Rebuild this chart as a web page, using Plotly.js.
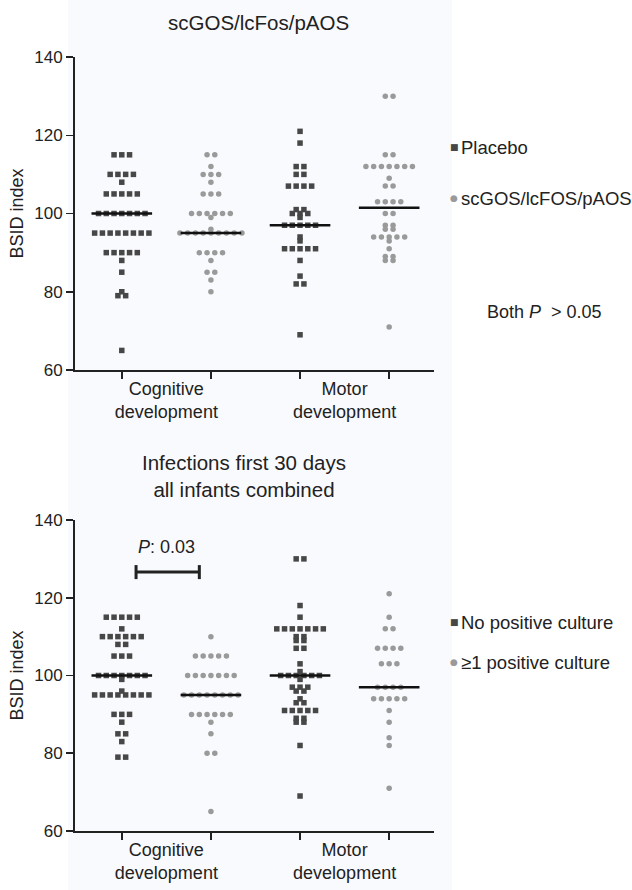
<!DOCTYPE html>
<html><head><meta charset="utf-8">
<script src="https://cdn.plot.ly/plotly-3.0.1.min.js"></script>
<style>html,body{margin:0;padding:0;background:#fff}</style>
</head><body><div id="chart" style="width:632px;height:890px"></div>
<script>
// ---- data ----
const columnPositions = [1, 2, 3, 4];
const categoryLabels = ["Cognitive<br>development", "Motor<br>development"];
const categoryCenters = [1.5, 3.5];
const yTicks = [60, 80, 100, 120, 140];

// top panel: Placebo vs scGOS/lcFOS/pAOS
const placeboCognitive = [115,115,115,110,110,110,110,108,105,105,105,105,105,100,100,100,100,100,100,100,95,95,95,95,95,95,95,95,90,90,90,90,90,88,85,80,79,79,65];
const prebioticCognitive = [115,115,112,110,110,110,108,105,105,105,100,100,100,100,100,100,99,96,95,95,95,95,95,95,95,95,95,90,90,90,90,88,85,85,83,80];
const placeboMotor = [121,118,112,112,110,110,107,107,107,107,101,101,100,100,100,99,97,97,97,97,97,94,93,91,91,91,91,91,88,84,82,82,69];
const prebioticMotor = [130,130,115,115,112,112,112,112,112,112,112,109,107,107,103,103,103,103,100,100,97,97,96,96,94,94,94,94,94,93,91,89,89,88,88,71];
const topMedians = [100, 95, 97, 101.5];

// bottom panel: no positive culture vs >=1 positive culture
const noCultureCognitive = [115,115,115,115,115,112,110,110,110,110,110,110,108,108,105,105,105,100,100,100,100,100,100,100,99,96,95,95,95,95,95,95,95,95,90,90,90,88,85,85,83,79,79];
const positiveCognitive = [110,105,105,105,105,105,100,100,100,100,100,100,100,95,95,95,95,95,95,95,95,90,90,90,90,90,90,88,85,80,80,65];
const noCultureMotor = [130,130,118,115,112,112,112,112,112,112,112,110,110,109,109,107,107,103,101,100,100,100,100,100,100,99,97,97,97,96,96,94,93,93,91,91,91,91,91,89,89,88,88,82,69];
const positiveMotor = [121,115,112,112,107,107,107,107,103,103,103,97,97,97,97,94,94,94,94,94,91,88,84,82,71];
const bottomMedians = [100, 95, 100, 97];

const bracketX = [1.16, 1.87];
const bracketY = 126.6;
const bracketText = "<i>P</i>: 0.03";

// ---- styling ----
const FONT = "Liberation Sans, Arial, Helvetica, sans-serif";
const TXT = "#222";
const SQ = "#474747";
const CI = "#9a9a9a";
const DX = 0.087;
const HALF = 0.34;

function swarm(values, center) {
  const totals = {}, seen = {};
  values.forEach(v => { totals[v] = (totals[v] || 0) + 1; });
  return values.map(v => {
    const i = seen[v] || 0; seen[v] = i + 1;
    return center + (i - (totals[v] - 1) / 2) * DX;
  });
}
function pts(values, col, symbol, color, xa, ya) {
  return {type: "scatter", mode: "markers", x: swarm(values, col), y: values,
    xaxis: xa, yaxis: ya, hoverinfo: "y", showlegend: false,
    marker: {symbol: symbol, size: 5.5, color: color}};
}
function med(m, col, xa, ya) {
  return {type: "scatter", mode: "lines", x: [col - HALF, col + HALF], y: [m, m],
    xaxis: xa, yaxis: ya, showlegend: false, hoverinfo: "skip",
    line: {color: "#111", width: 2.5}};
}

const traces = [
  pts(placeboCognitive, columnPositions[0], "square", SQ, "x", "y"),
  pts(prebioticCognitive, columnPositions[1], "circle", CI, "x", "y"),
  pts(placeboMotor, columnPositions[2], "square", SQ, "x", "y"),
  pts(prebioticMotor, columnPositions[3], "circle", CI, "x", "y"),
  pts(noCultureCognitive, columnPositions[0], "square", SQ, "x2", "y2"),
  pts(positiveCognitive, columnPositions[1], "circle", CI, "x2", "y2"),
  pts(noCultureMotor, columnPositions[2], "square", SQ, "x2", "y2"),
  pts(positiveMotor, columnPositions[3], "circle", CI, "x2", "y2")
];
topMedians.forEach((m, i) => traces.push(med(m, columnPositions[i], "x", "y")));
bottomMedians.forEach((m, i) => traces.push(med(m, columnPositions[i], "x2", "y2")));
// significance bracket
traces.push({type: "scatter", mode: "lines", xaxis: "x2", yaxis: "y2", showlegend: false, hoverinfo: "skip",
  x: [bracketX[0], bracketX[0], null, bracketX[0], bracketX[1], null, bracketX[1], bracketX[1]],
  y: [bracketY - 1.8, bracketY + 1.8, null, bracketY, bracketY, null, bracketY - 1.8, bracketY + 1.8],
  line: {color: "#222", width: 3}});
// invisible traces to activate the label axes
traces.push({type: "scatter", mode: "markers", x: categoryCenters, y: [60, 60], xaxis: "x3", yaxis: "y",
  marker: {opacity: 0}, showlegend: false, hoverinfo: "skip"});
traces.push({type: "scatter", mode: "markers", x: categoryCenters, y: [60, 60], xaxis: "x4", yaxis: "y2",
  marker: {opacity: 0}, showlegend: false, hoverinfo: "skip"});

const xRange = [0.475, 4.503];
function xax(anchor) {
  return {anchor: anchor, range: xRange, tickvals: columnPositions, ticktext: ["", "", "", ""],
    ticks: "outside", ticklen: 7, tickwidth: 1.5, tickcolor: "#222",
    showline: true, linewidth: 2, linecolor: "#222", showgrid: false, zeroline: false, fixedrange: true};
}
function labelAx(anchor, over) {
  return {anchor: anchor, overlaying: over, side: "bottom", range: xRange, tickvals: categoryCenters,
    ticktext: categoryLabels, ticks: "", showline: false, showgrid: false, zeroline: false,
    ticklabelstandoff: 6, tickfont: {size: 18, color: TXT, family: FONT}};
}
function yax(domain, anchor) {
  return {domain: domain, anchor: anchor, range: [60, 140], tickvals: yTicks,
    ticks: "outside", ticklen: 7, tickwidth: 1.5, tickcolor: "#222",
    showline: true, linewidth: 2, linecolor: "#222", showgrid: false, zeroline: false,
    tickfont: {size: 17, color: TXT, family: FONT},
    title: {text: "BSID index", font: {size: 18, color: TXT, family: FONT}, standoff: 6}};
}

const annotations = [];
function ann(text, x, y, opts) {
  annotations.push(Object.assign({text: text, x: x, y: y, xref: "paper", yref: "paper",
    showarrow: false, xanchor: "center", yanchor: "middle",
    font: {size: 18, color: TXT, family: FONT}}, opts || {}));
}
const px = p => (p - 75) / 359;
const py = p => (831 - p) / 774;
ann("scGOS/lcFos/pAOS", px(258), py(22), {font: {size: 20.5, color: TXT, family: FONT}});
ann("Infections first 30 days<br>all infants combined", px(244), py(476), {font: {size: 20.5, color: TXT, family: FONT}});
function legendItem(sym, color, label, y) {
  ann(sym, px(454), py(y), {font: {size: 9, color: color, family: "DejaVu Sans"}});
  ann(label, px(459), py(y), {xanchor: "left", font: {size: 18.5, color: TXT, family: FONT}});
}
legendItem("■", SQ, "Placebo", 147);
legendItem("●", CI, "scGOS/lcFOS/pAOS", 198);
legendItem("■", SQ, "No positive culture", 622);
legendItem("●", CI, "≥1 positive culture", 662);
ann("Both <i>P</i>&nbsp; &gt; 0.05", px(544), py(312));
annotations.push({text: bracketText, x: 1.5, xref: "x2", y: 133, yref: "y2", showarrow: false,
  font: {size: 18, color: TXT, family: FONT}});

const layout = {
  width: 632, height: 890,
  margin: {l: 75, r: 198, t: 57, b: 59},
  paper_bgcolor: "#ffffff", plot_bgcolor: "rgba(0,0,0,0)",
  font: {family: FONT, color: TXT},
  showlegend: false,
  xaxis: xax("y"), yaxis: yax([0.5956, 1], "x"),
  xaxis2: xax("y2"), yaxis2: yax([0, 0.4018], "x2"),
  xaxis3: labelAx("y", "x"), xaxis4: labelAx("y2", "x2"),
  annotations: annotations,
  shapes: [{type: "rect", xref: "paper", yref: "paper", x0: px(68), x1: px(452), y0: py(890), y1: py(0),
    fillcolor: "#f9fafd", line: {width: 0}, layer: "below"}]
};
Plotly.newPlot("chart", traces, layout, {displayModeBar: false, staticPlot: true});
</script></body></html>
